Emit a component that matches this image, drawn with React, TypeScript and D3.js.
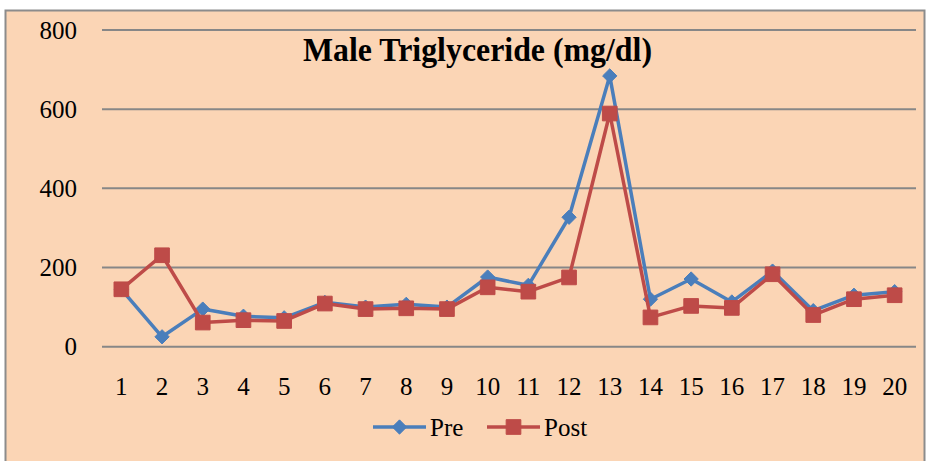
import * as d3 from 'd3';

const categories = ['1', '2', '3', '4', '5', '6', '7', '8', '9', '10', '11', '12', '13', '14', '15', '16', '17', '18', '19', '20'];
const preValues = [145, 25, 95, 77, 73, 112, 100, 107, 100, 176, 155, 327, 684, 120, 171, 113, 191, 91, 130, 139];
const postValues = [145, 231, 61, 67, 65, 109, 95, 97, 95, 150, 139, 175, 589, 74, 103, 98, 183, 80, 120, 130];
const yTicks = [0, 200, 400, 600, 800];

const FONT = 'Liberation Serif';
const PRE = '#4a7ebb';
const POST = '#be4b48';

const x = d3.scaleBand<string>().domain(categories).range([101, 915]);
const y = d3.scaleLinear().domain([0, 800]).range([346.7, 30]);
const cx = (c: string) => (x(c) ?? 0) + x.bandwidth() / 2;

const line = d3.line<number>()
  .x((_, i) => cx(categories[i]))
  .y(d => y(d));

const diamond = d3.symbol().type(d3.symbolDiamond2).size(130)() as string;
const square = d3.symbol().type(d3.symbolSquare).size(215)() as string;

const series = [
  { name: 'Pre', values: preValues, color: PRE, sym: diamond, lx: 373 },
  { name: 'Post', values: postValues, color: POST, sym: square, lx: 487 },
];

const App = () => {
  const legendY = 427;
  return (
    <div style={{ position: 'absolute', left: 0, top: 0, width: 932, height: 461, background: '#fff', overflow: 'hidden' }}>
      <svg width={932} height={461} style={{ display: 'block' }} fontFamily={FONT}>
        {/* fond + cadre */}
        <rect x={5.5} y={10.5} width={919} height={460} fill="#fbd5b5" stroke="#8c8c8c" strokeWidth={2} />

        {/* grille */}
        {yTicks.map(t => (
          <line key={t} x1={102} x2={916} y1={y(t)} y2={y(t)} stroke="#878787" strokeWidth={2} />
        ))}
        {yTicks.map(t => (
          <text key={'l' + t} x={77} y={y(t) + 8.5} textAnchor="end" fontSize={25} fill="#000">{t}</text>
        ))}
        {categories.map(c => (
          <text key={c} x={cx(c)} y={395} textAnchor="middle" fontSize={25} fill="#000">{c}</text>
        ))}

        <text x={303} y={61} fontSize={33} fontWeight="bold" fill="#000" textLength={349} lengthAdjust="spacingAndGlyphs">
          Male Triglyceride (mg/dl)
        </text>

        {series.map(s => (
          <g key={s.name}>
            <path d={line(s.values) ?? ''} fill="none" stroke={s.color} strokeWidth={3.5} strokeLinejoin="round" />
            {s.values.map((v, i) => (
              <path key={i} transform={`translate(${cx(categories[i])},${y(v)})`} d={s.sym} fill={s.color} stroke={s.color} strokeWidth={1} />
            ))}
          </g>
        ))}

        {/* légende */}
        {series.map(s => (
          <g key={'lg' + s.name}>
            <line x1={s.lx} x2={s.lx + 53} y1={legendY} y2={legendY} stroke={s.color} strokeWidth={3.5} />
            <path transform={`translate(${s.lx + 26.5},${legendY})`} d={s.sym} fill={s.color} stroke={s.color} />
            <text x={s.lx + 57} y={legendY + 9} fontSize={25} fill="#000">{s.name}</text>
          </g>
        ))}
      </svg>
    </div>
  );
};

export default App;
